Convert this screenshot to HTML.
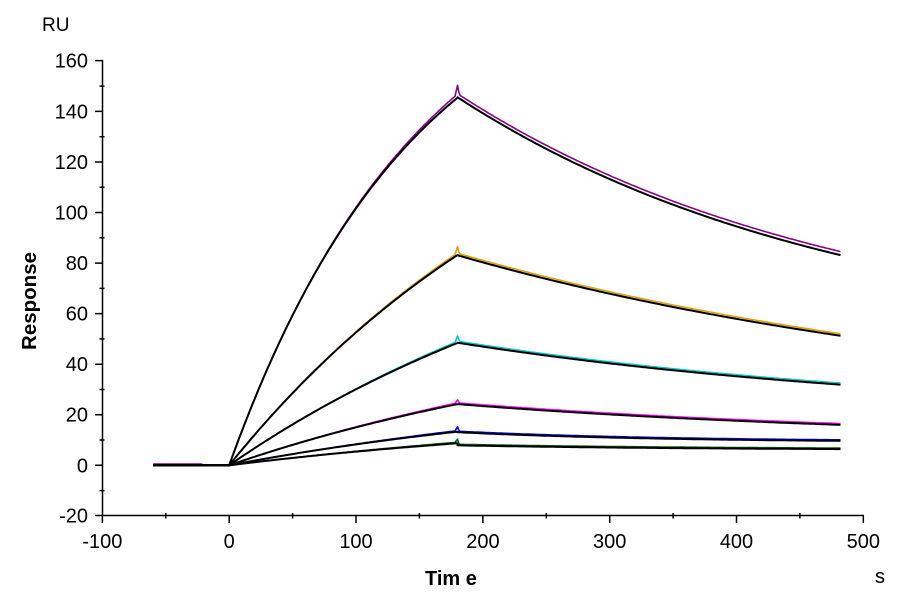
<!DOCTYPE html>
<html><head><meta charset="utf-8"><style>
html,body{margin:0;padding:0;background:#fff;}
svg{display:block;}
text{font-family:"Liberation Sans",Arial,sans-serif;fill:#000;}
</style></head><body>
<svg id="c" width="900" height="600" viewBox="0 0 900 600" xmlns="http://www.w3.org/2000/svg">
<rect width="900" height="600" fill="#fff"/>
<g id="curves"></g>
<g stroke="#000" stroke-width="1.5" fill="none">
<path d="M102.5 60 V516 M102 515.5 H864"/>
<path d="M95 515.5H103 M95 465.3H103 M95 414.7H103 M95 364.2H103 M95 313.6H103 M95 263.1H103 M95 212.5H103 M95 162H103 M95 111.4H103 M95 60.6H103"/>
<path d="M99.5 490.6H104.5 M99.5 440H104.5 M99.5 389.5H104.5 M99.5 338.9H104.5 M99.5 288.4H104.5 M99.5 237.8H104.5 M99.5 187.2H104.5 M99.5 136.7H104.5 M99.5 86.1H104.5"/>
<path d="M102.4 515V523 M229.2 515V523 M356 515V523 M482.9 515V523 M609.7 515V523 M736.5 515V523 M863.3 515V523"/>
<path d="M165.8 513V518.5 M292.6 513V518.5 M419.4 513V518.5 M546.3 513V518.5 M673.1 513V518.5 M799.9 513V518.5"/>
</g>
<g font-size="20" text-anchor="end">
<text x="88" y="522.5">-20</text>
<text x="88" y="472.3">0</text>
<text x="88" y="421.7">20</text>
<text x="88" y="371.2">40</text>
<text x="88" y="320.6">60</text>
<text x="88" y="270.1">80</text>
<text x="88" y="219.5">100</text>
<text x="88" y="169">120</text>
<text x="88" y="118.4">140</text>
<text x="88" y="67.6">160</text>
</g>
<g font-size="20" text-anchor="middle">
<text x="102.4" y="548">-100</text>
<text x="229.2" y="548">0</text>
<text x="356" y="548">100</text>
<text x="482.9" y="548">200</text>
<text x="609.7" y="548">300</text>
<text x="736.5" y="548">400</text>
<text x="863.3" y="548">500</text>
</g>
<text x="42" y="31" font-size="19">RU</text>
<text x="875" y="583" font-size="20">s</text>
<text x="425" y="585" font-size="20" font-weight="bold">Tim e</text>
<text x="0" y="0" font-size="20.5" font-weight="bold" text-anchor="middle" transform="translate(36 301) rotate(-90)">Response</text>
</svg>
<script>
(function(){
var X=function(t){return 229.2+1.2683*t;};
var Y=function(v){return 465.3-2.5278*v;};
var curves=[
 {col:"#8b008b",Req:206,k:0.0068,C:46.6,A:99,kd:0.0033,off:1.4,spike:3.5,base:0.5},
 {col:"#e0a010",Req:178,k:0.0035,C:17.5,A:65.6,kd:0.0022,off:0.8,spike:2.5,base:0},
 {col:"#00c8c8",Req:116,k:0.003,C:18,A:30.5,kd:0.0026,off:0.6,spike:2.2,base:0},
 {col:"#ff00ff",Req:58,k:0.003,C:9.5,A:14.7,kd:0.0027,off:0.5,spike:1.2,base:0},
 {col:"#0000ff",Req:31.9,k:0.003,C:9.0,A:4.1,kd:0.006,off:0.4,spike:1.5,base:0},
 {col:"#006400",Req:20.9,k:0.003,C:6.0,A:1.9,kd:0.005,off:0.4,spike:1.2,base:0}
];
function fit(c,t){
 if(t<0) return 0;
 if(t<=180) return c.Req*(1-Math.exp(-c.k*t));
 return c.C+c.A*Math.exp(-c.kd*(t-180));
}
var g=document.getElementById("curves");
var ns="http://www.w3.org/2000/svg";
function add(d,col,w){
 var p=document.createElementNS(ns,"path");
 p.setAttribute("d",d);p.setAttribute("stroke",col);
 p.setAttribute("stroke-width",w);p.setAttribute("fill","none");
 p.setAttribute("stroke-linejoin","round");
 g.appendChild(p);
}
var i,t,d,c,v;
// data curves
for(i=0;i<curves.length;i++){
 c=curves[i];d="";
 for(t=-60;t<=482;t+=2){
  v=fit(c,t);
  if(t<0){ v = (t<-20)?c.base:0; }
  else if(t<=180){ v += c.off*(t/180)*(t/180); }
  else { v += c.off; }
  if(t===180) v+=c.spike;
  d+=(d?"L":"M")+X(t).toFixed(1)+" "+Y(v).toFixed(1);
  if(t===180){ d+="L"+X(181).toFixed(1)+" "+Y(fit(c,181)+c.off+c.spike*0.3).toFixed(1); }
 }
 add(d,c.col,1.6);
}
// fit curves
for(i=0;i<curves.length;i++){
 c=curves[i];d="";
 for(t=-60;t<=482;t+=2){
  v=fit(c,t);
  d+=(d?"L":"M")+X(t).toFixed(1)+" "+Y(v).toFixed(1);
  if(t===180){ d+="L"+X(180).toFixed(1)+" "+Y(c.C+c.A).toFixed(1); }
 }
 add(d,"#000",2);
}
})();
</script>
</body></html>
